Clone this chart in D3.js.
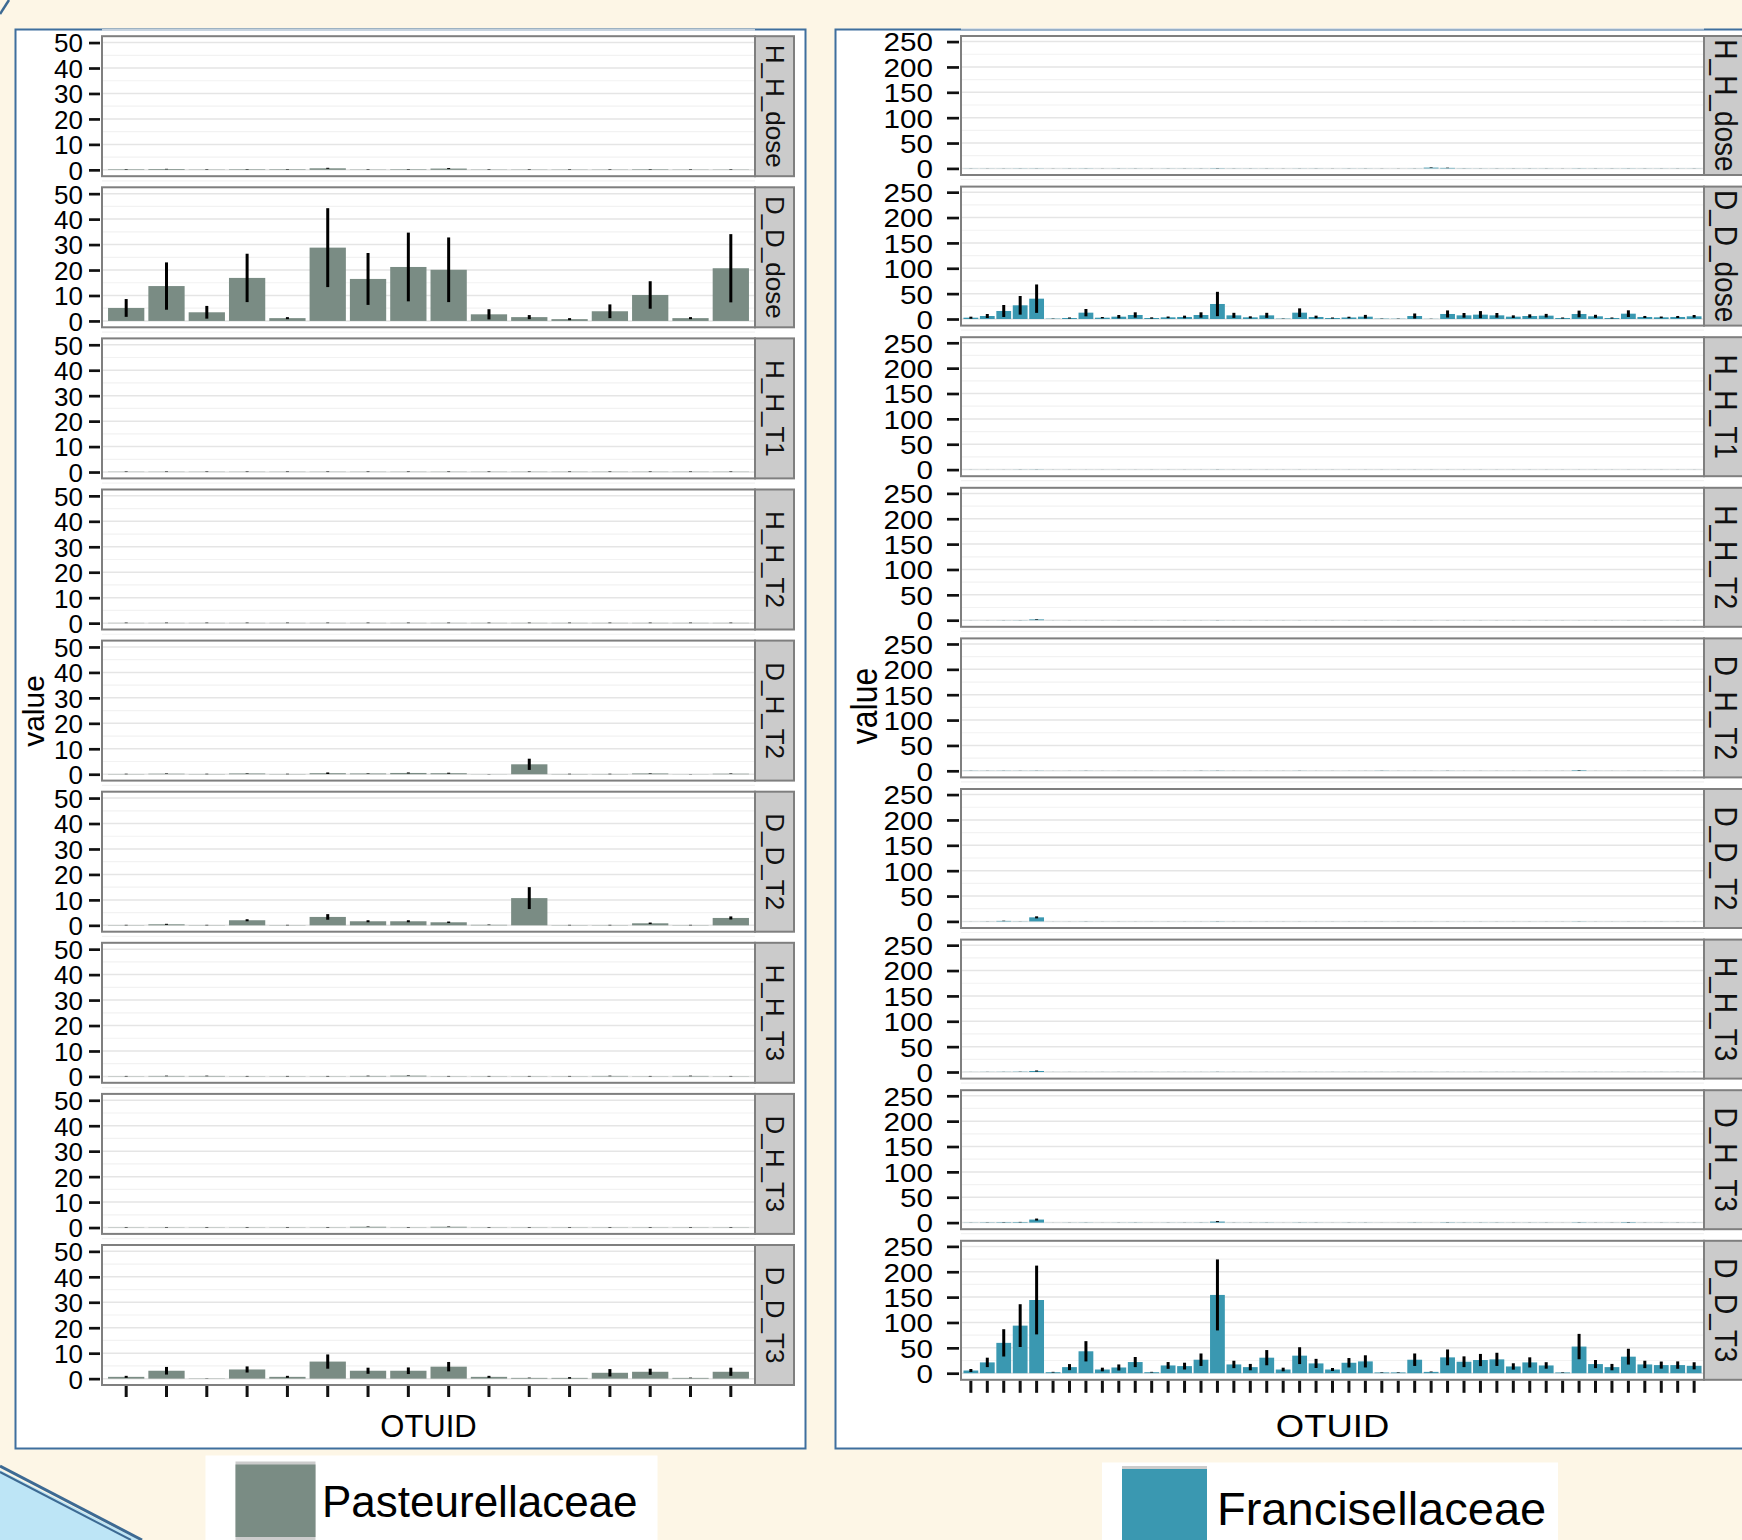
<!DOCTYPE html>
<html>
<head>
<meta charset="utf-8">
<script src="https://cdn.jsdelivr.net/npm/d3@7"></script>
<style>
  html, body { margin: 0; padding: 0; background: #fdf6e6; }
  svg { display: block; font-family: "Liberation Sans", Arial, Helvetica, sans-serif; }
</style>
</head>
<body>
<svg id="chart" width="1742" height="1540"></svg>
<script>
// ---- data ----
const facets = ["H_H_dose", "D_D_dose", "H_H_T1", "H_H_T2", "D_H_T2", "D_D_T2", "H_H_T3", "D_H_T3", "D_D_T3"];
const yTicksPast = [0, 10, 20, 30, 40, 50];
const yTicksFran = [0, 50, 100, 150, 200, 250];

// Pasteurellaceae, 16 OTUs : [mean, se]
const pastOtus = d3.range(1, 17).map(i => "P" + i);
const past_H_H_dose = [[0.2,0.1],[0.3,0.1],[0.1,0.1],[0.2,0.1],[0.2,0.1],[0.6,0.2],[0.1,0.1],[0.2,0.1],[0.5,0.2],[0.1,0.1],[0.1,0.1],[0.1,0.1],[0.1,0.1],[0.2,0.1],[0.1,0.1],[0.1,0.1]];
const past_D_D_dose = [[5.1,3.5],[13.7,9.3],[3.4,2.5],[16.9,9.5],[1.1,0.4],[28.8,15.5],[16.5,10.2],[21.2,13.5],[20.1,12.7],[2.6,2.0],[1.5,0.8],[0.7,0.4],[3.8,2.7],[10.2,5.4],[1.1,0.4],[20.7,13.4]];
const past_H_H_T1 = [[0.1,0.1],[0.1,0.1],[0.1,0.1],[0.1,0.1],[0.1,0.1],[0.1,0.1],[0.1,0.1],[0.1,0.1],[0.1,0.1],[0.1,0.1],[0.1,0.1],[0.1,0.1],[0.1,0.1],[0.1,0.1],[0.1,0.1],[0.1,0.1]];
const past_H_H_T2 = [[0.1,0.1],[0.1,0.1],[0.1,0.1],[0.1,0.1],[0.1,0.1],[0.1,0.1],[0.1,0.1],[0.1,0.1],[0.1,0.1],[0.1,0.1],[0.1,0.1],[0.1,0.1],[0.1,0.1],[0.1,0.1],[0.1,0.1],[0.1,0.1]];
const past_D_H_T2 = [[0.1,0.1],[0.2,0.1],[0.1,0.1],[0.3,0.1],[0.1,0.1],[0.4,0.3],[0.3,0.1],[0.5,0.2],[0.4,0.2],[0.05,0.05],[3.9,2.2],[0.1,0.1],[0.1,0.1],[0.3,0.1],[0.05,0.05],[0.2,0.1]];
const past_D_D_T2 = [[0.1,0.1],[0.4,0.2],[0.1,0.1],[2.0,0.4],[0.1,0.1],[3.3,1.1],[1.6,0.4],[1.6,0.4],[1.2,0.3],[0.2,0.1],[10.7,4.3],[0.1,0.1],[0.1,0.1],[0.8,0.3],[0.1,0.1],[2.9,0.6]];
const past_H_H_T3 = [[0.1,0.1],[0.2,0.1],[0.2,0.1],[0.1,0.1],[0.1,0.1],[0.1,0.1],[0.2,0.1],[0.3,0.1],[0.1,0.1],[0.1,0.1],[0.1,0.1],[0.1,0.1],[0.2,0.1],[0.1,0.1],[0.2,0.1],[0.1,0.1]];
const past_D_H_T3 = [[0.1,0.1],[0.1,0.1],[0.1,0.1],[0.1,0.1],[0.1,0.1],[0.1,0.1],[0.3,0.1],[0.1,0.1],[0.3,0.1],[0.1,0.1],[0.1,0.1],[0.1,0.1],[0.1,0.1],[0.1,0.1],[0.1,0.1],[0.1,0.1]];
const past_D_D_T3 = [[0.7,0.4],[3.1,1.5],[0.1,0.05],[3.6,1.2],[0.7,0.4],[6.7,2.8],[3.1,1.2],[3.1,1.3],[4.7,1.85],[0.7,0.4],[0.3,0.1],[0.3,0.3],[2.3,1.45],[2.7,1.2],[0.3,0.1],[2.7,1.6]];

// Francisellaceae, 45 OTUs : [mean, se]
const franOtus = d3.range(1, 46).map(i => "F" + i);
const fran_H_H_dose = [[0.2,0.1],[0.2,0.1],[0.2,0.1],[0.3,0.1],[0.3,0.1],[0.1,0.1],[0.2,0.1],[0.3,0.1],[0.1,0.1],[0.2,0.1],[0.2,0.1],[0.1,0.1],[0.2,0.1],[0.2,0.1],[0.2,0.1],[0.5,0.2],[0.2,0.1],[0.2,0.1],[0.2,0.1],[0.1,0.1],[0.2,0.1],[0.2,0.1],[0.1,0.1],[0.2,0.1],[0.2,0.1],[0.1,0.1],[0.1,0.1],[0.2,0.1],[1.5,0.5],[1.0,0.4],[0.3,0.1],[0.2,0.1],[0.2,0.1],[0.2,0.1],[0.2,0.1],[0.2,0.1],[0.1,0.1],[0.3,0.1],[0.2,0.1],[0.2,0.1],[0.3,0.1],[0.2,0.1],[0.2,0.1],[0.2,0.1],[0.2,0.1]];
const fran_D_D_dose = [[2.6,2.0],[5.9,4.0],[15.8,11.8],[27.0,18.4],[40.1,28.0],[0.7,0.3],[2.0,1.0],[12.5,7.2],[2.6,1.3],[4.6,3.3],[7.9,5.3],[2.0,1.3],[3.3,1.6],[4.0,2.6],[7.9,5.3],[29.6,24.0],[7.2,5.0],[3.3,2.0],[7.2,5.0],[0.7,0.3],[12.5,8.5],[4.0,2.6],[2.0,1.0],[3.0,1.5],[4.6,3.5],[0.7,0.3],[0.5,0.3],[5.9,5.0],[0.3,0.2],[9.9,7.0],[7.2,4.6],[8.6,7.0],[7.2,4.6],[4.6,2.6],[5.9,3.3],[6.6,3.5],[2.0,1.0],[9.9,6.6],[5.3,3.0],[2.0,1.0],[10.5,6.6],[4.0,2.0],[3.3,1.6],[4.0,2.0],[5.3,2.6]];
const fran_H_H_T1 = [[0.1,0.05],[0.1,0.05],[0.1,0.05],[0.2,0.1],[0.3,0.1],[0.1,0.05],[0.1,0.05],[0.1,0.05],[0.1,0.05],[0.1,0.05],[0.1,0.05],[0.1,0.05],[0.1,0.05],[0.1,0.05],[0.1,0.05],[0.2,0.1],[0.1,0.05],[0.1,0.05],[0.1,0.05],[0.1,0.05],[0.1,0.05],[0.1,0.05],[0.1,0.05],[0.1,0.05],[0.1,0.05],[0.1,0.05],[0.1,0.05],[0.1,0.05],[0.1,0.05],[0.1,0.05],[0.1,0.05],[0.1,0.05],[0.1,0.05],[0.1,0.05],[0.1,0.05],[0.1,0.05],[0.1,0.05],[0.1,0.05],[0.1,0.05],[0.1,0.05],[0.1,0.05],[0.1,0.05],[0.1,0.05],[0.1,0.05],[0.1,0.05]];
const fran_H_H_T2 = [[0.1,0.05],[0.1,0.05],[0.2,0.1],[0.3,0.1],[1.5,0.6],[0.1,0.05],[0.1,0.05],[0.1,0.05],[0.1,0.05],[0.1,0.05],[0.1,0.05],[0.1,0.05],[0.1,0.05],[0.1,0.05],[0.1,0.05],[0.2,0.1],[0.1,0.05],[0.1,0.05],[0.1,0.05],[0.1,0.05],[0.1,0.05],[0.1,0.05],[0.1,0.05],[0.1,0.05],[0.1,0.05],[0.1,0.05],[0.1,0.05],[0.1,0.05],[0.1,0.05],[0.1,0.05],[0.1,0.05],[0.1,0.05],[0.1,0.05],[0.1,0.05],[0.1,0.05],[0.1,0.05],[0.1,0.05],[0.1,0.05],[0.1,0.05],[0.1,0.05],[0.1,0.05],[0.1,0.05],[0.1,0.05],[0.1,0.05],[0.1,0.05]];
const fran_D_H_T2 = [[0.3,0.1],[0.2,0.1],[0.3,0.1],[0.2,0.1],[0.3,0.1],[0.1,0.05],[0.1,0.05],[0.2,0.1],[0.1,0.05],[0.1,0.05],[0.1,0.05],[0.1,0.05],[0.1,0.05],[0.1,0.05],[0.2,0.1],[0.3,0.1],[0.1,0.05],[0.1,0.05],[0.1,0.05],[0.1,0.05],[0.2,0.1],[0.1,0.05],[0.1,0.05],[0.1,0.05],[0.1,0.05],[0.3,0.1],[0.1,0.05],[0.1,0.05],[0.1,0.05],[0.2,0.1],[0.1,0.05],[0.1,0.05],[0.1,0.05],[0.1,0.05],[0.1,0.05],[0.1,0.05],[0.1,0.05],[1.0,0.4],[0.1,0.05],[0.1,0.05],[0.1,0.05],[0.1,0.05],[0.1,0.05],[0.1,0.05],[0.1,0.05]];
const fran_D_D_T2 = [[0.1,0.05],[0.2,0.1],[1.0,0.4],[0.3,0.1],[8.0,2.0],[0.1,0.05],[0.1,0.05],[0.2,0.1],[0.1,0.05],[0.1,0.05],[0.1,0.05],[0.1,0.05],[0.1,0.05],[0.1,0.05],[0.1,0.05],[0.3,0.1],[0.1,0.05],[0.1,0.05],[0.1,0.05],[0.1,0.05],[0.1,0.05],[0.1,0.05],[0.1,0.05],[0.1,0.05],[0.1,0.05],[0.1,0.05],[0.1,0.05],[0.1,0.05],[0.1,0.05],[0.1,0.05],[0.1,0.05],[0.1,0.05],[0.1,0.05],[0.1,0.05],[0.1,0.05],[0.1,0.05],[0.1,0.05],[0.3,0.1],[0.1,0.05],[0.1,0.05],[0.1,0.05],[0.1,0.05],[0.1,0.05],[0.1,0.05],[0.1,0.05]];
const fran_H_H_T3 = [[0.1,0.05],[0.2,0.1],[0.3,0.1],[0.5,0.2],[2.0,1.0],[0.1,0.05],[0.1,0.05],[0.1,0.05],[0.1,0.05],[0.1,0.05],[0.1,0.05],[0.1,0.05],[0.1,0.05],[0.1,0.05],[0.1,0.05],[0.2,0.1],[0.1,0.05],[0.1,0.05],[0.1,0.05],[0.1,0.05],[0.1,0.05],[0.1,0.05],[0.1,0.05],[0.1,0.05],[0.1,0.05],[0.1,0.05],[0.1,0.05],[0.1,0.05],[0.1,0.05],[0.1,0.05],[0.1,0.05],[0.1,0.05],[0.1,0.05],[0.1,0.05],[0.1,0.05],[0.1,0.05],[0.1,0.05],[0.1,0.05],[0.1,0.05],[0.1,0.05],[0.1,0.05],[0.1,0.05],[0.1,0.05],[0.1,0.05],[0.1,0.05]];
const fran_D_H_T3 = [[0.3,0.1],[0.5,0.2],[0.8,0.3],[1.0,0.4],[6.0,2.0],[0.1,0.05],[0.2,0.1],[0.3,0.1],[0.1,0.05],[0.2,0.1],[0.3,0.1],[0.1,0.05],[0.2,0.1],[0.2,0.1],[0.3,0.1],[2.0,1.0],[0.2,0.1],[0.2,0.1],[0.3,0.1],[0.1,0.05],[0.3,0.1],[0.2,0.1],[0.1,0.05],[0.2,0.1],[0.2,0.1],[0.1,0.05],[0.1,0.05],[0.3,0.1],[0.1,0.05],[0.5,0.2],[0.3,0.1],[0.3,0.1],[0.3,0.1],[0.2,0.1],[0.2,0.1],[0.2,0.1],[0.1,0.05],[0.5,0.2],[0.2,0.1],[0.2,0.1],[0.8,0.3],[0.2,0.1],[0.2,0.1],[0.2,0.1],[0.2,0.1]];
const fran_D_D_T3 = [[5.3,3.0],[21.3,9.3],[59.8,26.9],[93.8,42.2],[144.3,67.8],[2.0,0.7],[12.0,6.0],[43.2,20.0],[7.3,3.6],[11.3,6.0],[22.0,10.0],[2.0,0.7],[15.3,6.7],[14.0,6.7],[26.6,12.3],[154.3,70.0],[17.3,7.3],[12.0,6.3],[30.6,15.0],[7.3,3.6],[34.6,16.6],[19.3,9.0],[7.3,3.0],[20.6,9.3],[23.3,12.0],[1.5,0.5],[1.5,0.5],[26.6,12.3],[2.6,0.7],[31.2,15.6],[22.6,10.6],[26.0,12.0],[27.3,13.0],[13.3,6.3],[21.3,10.0],[15.3,6.4],[1.5,0.5],[52.5,25.0],[18.0,8.0],[12.0,6.3],[32.6,15.6],[17.3,7.3],[16.0,7.0],[16.0,7.3],[14.6,7.0]];

// table built from the arrays above
const pastRows = [past_H_H_dose, past_D_D_dose, past_H_H_T1, past_H_H_T2, past_D_H_T2, past_D_D_T2, past_H_H_T3, past_D_H_T3, past_D_D_T3];
const franRows = [fran_H_H_dose, fran_D_D_dose, fran_H_H_T1, fran_H_H_T2, fran_D_H_T2, fran_D_D_T2, fran_H_H_T3, fran_D_H_T3, fran_D_D_T3];

const svg = d3.select("#chart");

// --- slide background decorations ---
svg.append("rect").attr("width", 1742).attr("height", 1540).attr("fill", "#fdf6e6");
svg.append("path").attr("d", "M0,1470 L139,1540 L0,1540 Z").attr("fill", "#bde5f6");
svg.append("line").attr("x1", 0).attr("y1", 1466).attr("x2", 142).attr("y2", 1540)
  .attr("stroke", "#3d6a93").attr("stroke-width", 3);
svg.append("line").attr("x1", 0).attr("y1", 1472).attr("x2", 131).attr("y2", 1540)
  .attr("stroke", "#3d6a93").attr("stroke-width", 2);
svg.append("line").attr("x1", 0).attr("y1", 14).attr("x2", 9).attr("y2", 0)
  .attr("stroke", "#3d6a93").attr("stroke-width", 2.5);

// --- one faceted bar chart ---
function drawFigure(cfg) {
  const g = svg.append("g");

  // white frame of the pasted picture
  g.append("rect")
    .attr("x", cfg.box[0]).attr("y", cfg.box[1])
    .attr("width", cfg.box[2]).attr("height", cfg.box[3])
    .attr("fill", "#fff").attr("stroke", "#3f6f9e").attr("stroke-width", 2);

  const x = d3.scaleBand()
    .domain(cfg.otus)
    .range([cfg.x0, cfg.x1])
    .paddingInner(0.1)
    .paddingOuter(0.15);

  facets.forEach((facet, fi) => {
    const top = cfg.top0 + fi * cfg.pitch;
    const y = d3.scaleLinear().domain(cfg.yDomain).range([top + cfg.panelH, top]);
    const rows = cfg.rows[fi].map((d, i) => ({ otu: cfg.otus[i], mean: d[0], se: d[1] }));

    const p = g.append("g");

    // grid
    const minor = d3.pairs(cfg.ticks).map(([a, b]) => (a + b) / 2)
      .concat([cfg.ticks[cfg.ticks.length - 1] + (cfg.ticks[1] - cfg.ticks[0]) / 2]);
    p.selectAll(".minor").data(minor).join("line")
      .attr("x1", cfg.x0).attr("x2", cfg.x1)
      .attr("y1", d => y(d)).attr("y2", d => y(d))
      .attr("stroke", "#f2f2f2").attr("stroke-width", 1.2);
    p.selectAll(".major").data(cfg.ticks).join("line")
      .attr("x1", cfg.x0).attr("x2", cfg.x1)
      .attr("y1", d => y(d)).attr("y2", d => y(d))
      .attr("stroke", "#e5e5e5").attr("stroke-width", 1.5);

    // bars
    p.selectAll(".bar").data(rows).join("rect")
      .attr("x", d => x(d.otu))
      .attr("width", x.bandwidth())
      .attr("y", d => y(d.mean))
      .attr("height", d => y(0) - y(d.mean))
      .attr("fill", cfg.color);

    // error bars
    p.selectAll(".err").data(rows).join("line")
      .attr("x1", d => x(d.otu) + x.bandwidth() / 2)
      .attr("x2", d => x(d.otu) + x.bandwidth() / 2)
      .attr("y1", d => y(d.mean + d.se))
      .attr("y2", d => y(Math.max(d.mean - d.se, cfg.yDomain[0])))
      .attr("stroke", "#000").attr("stroke-width", 3);

    // panel border
    p.append("rect")
      .attr("x", cfg.x0).attr("y", top)
      .attr("width", cfg.x1 - cfg.x0).attr("height", cfg.panelH)
      .attr("fill", "none").attr("stroke", "#7f7f7f").attr("stroke-width", 2);

    // strip
    p.append("rect")
      .attr("x", cfg.x1).attr("y", top)
      .attr("width", cfg.stripW).attr("height", cfg.panelH)
      .attr("fill", "#cbcbcb").attr("stroke", "#7f7f7f").attr("stroke-width", 2);
    p.append("text")
      .attr("transform", `translate(${cfg.x1 + cfg.stripTextX},${top + cfg.panelH / 2}) scale(${cfg.stretch},1) rotate(90)`)
      .attr("text-anchor", "middle")
      .attr("font-size", cfg.stripFont)
      .attr("fill", "#111")
      .text(facet);

    // y axis
    const ax = p.append("g")
      .attr("transform", `translate(${cfg.x0},0)`)
      .call(d3.axisLeft(y).tickValues(cfg.ticks).tickSize(cfg.yTickLen).tickPadding(cfg.yTickPad));
    ax.select(".domain").remove();
    ax.selectAll(".tick line").attr("stroke", "#111").attr("stroke-width", 2.7)
      .attr("transform", "translate(-2,0)");
    ax.selectAll(".tick text")
      .attr("font-size", cfg.tickFont)
      .attr("font-family", "Liberation Sans, Arial, sans-serif")
      .attr("fill", "#000")
      .attr("dy", "0.36em")
      .attr("transform", `scale(${cfg.stretch},1)`);

    // x axis only under the last panel
    if (fi === facets.length - 1) {
      const bx = p.append("g")
        .attr("transform", `translate(0,${top + cfg.panelH + 1})`)
        .call(d3.axisBottom(x).tickSize(cfg.xTickLen).tickFormat(""));
      bx.select(".domain").remove();
      bx.selectAll(".tick line").attr("stroke", "#111").attr("stroke-width", 3);
    }
  });

  // axis titles
  g.append("text")
    .attr("transform", `translate(${cfg.valueX},${cfg.valueY}) scale(${cfg.stretch},1) rotate(-90)`)
    .attr("text-anchor", "middle")
    .attr("font-size", cfg.titleFont)
    .attr("fill", "#000")
    .text("value");
  g.append("text")
    .attr("transform", `translate(${(cfg.x0 + cfg.x1) / 2},1437) scale(${cfg.stretch},1)`)
    .attr("text-anchor", "middle")
    .attr("font-size", cfg.otuFont)
    .attr("fill", "#000")
    .text("OTUID");

  // legend card
  const L = cfg.legend;
  g.append("rect").attr("x", L.box[0]).attr("y", L.box[1]).attr("width", L.box[2]).attr("height", 1540 - L.box[1])
    .attr("fill", "#fff");
  g.append("rect").attr("x", L.key[0]).attr("y", L.key[1]).attr("width", L.key[2]).attr("height", 1540 - L.key[1])
    .attr("fill", "#cccccc");
  g.append("rect").attr("x", L.key[0]).attr("y", L.key[1] + 3).attr("width", L.key[2]).attr("height", 1540 - L.key[1] - (L.keyBottom ? 6 : 3))
    .attr("fill", cfg.color);
  g.append("text").attr("x", L.text[0]).attr("y", L.text[1])
    .attr("font-size", L.font).attr("fill", "#000")
    .text(L.label);
}

drawFigure({
  box: [15.5, 29.5, 790, 1419],
  otus: pastOtus, rows: pastRows,
  x0: 102, x1: 755, stripW: 39, stripTextX: 11,
  top0: 36.2, pitch: 151.1, panelH: 140,
  yDomain: [-2.5, 52.5], ticks: yTicksPast,
  color: "#7a8c84", stretch: 1,
  tickFont: 26, stripFont: 26, titleFont: 30, otuFont: 31,
  yTickLen: 11, yTickPad: 8, xTickLen: 11,
  valueX: 44, valueY: 711,
  legend: { box: [205.5, 1455.5, 452], key: [235.5, 1461.5, 80], keyBottom: true, text: [322, 1517], font: 44, label: "Pasteurellaceae" }
});

drawFigure({
  box: [835.5, 29.5, 930, 1419],
  otus: franOtus, rows: franRows,
  x0: 961, x1: 1704, stripW: 42, stripTextX: 11,
  top0: 36, pitch: 150.6, panelH: 139,
  yDomain: [-13, 261], ticks: yTicksFran,
  color: "#3a98b1", stretch: 1.14,
  tickFont: 26, stripFont: 28, titleFont: 32, otuFont: 32,
  yTickLen: 12, yTickPad: 12.6, xTickLen: 12,
  valueX: 877, valueY: 706,
  legend: { box: [1102, 1462.5, 456], key: [1122, 1466, 85], keyBottom: false, text: [1217, 1525], font: 47, label: "Francisellaceae" }
});
</script>
</body>
</html>
